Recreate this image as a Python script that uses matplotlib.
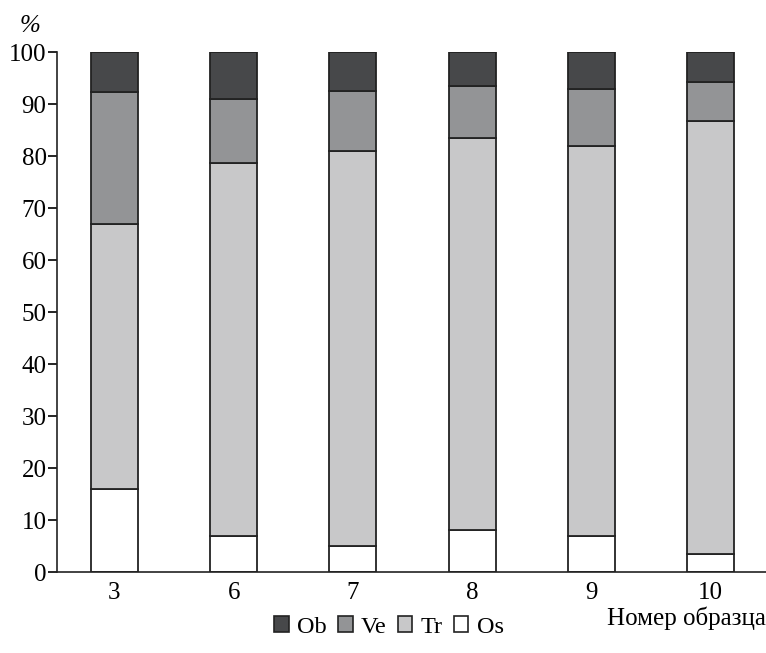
import numpy as np
import matplotlib.pyplot as plt
from matplotlib.patches import Patch

plt.rcParams['font.family'] = ['Liberation Serif', 'DejaVu Serif']

# Data (cumulative boundaries, converted to shares)
samples = ['3', '6', '7', '8', '9', '10']
os_vals = [16, 7, 5, 8, 7, 3.5]
tr_vals = [51, 71.7, 76, 75.5, 75, 83.2]
ve_vals = [25.3, 12.3, 11.5, 10, 11, 7.5]
ob_vals = [7.7, 9, 7.5, 6.5, 7, 5.8]

colors = {'Ob': '#47484a', 'Ve': '#939496', 'Tr': '#c8c8c9', 'Os': '#ffffff'}
edge = '#222222'

fig = plt.figure(figsize=(7.66, 6.53), dpi=100)
ax = fig.add_axes([0.0744, 0.124, 0.9256, 0.796])

x = np.arange(len(samples))
w = 0.395
b = np.zeros(len(samples))
for name, vals in [('Os', os_vals), ('Tr', tr_vals), ('Ve', ve_vals), ('Ob', ob_vals)]:
    ax.bar(x, vals, w, bottom=b, color=colors[name], edgecolor=edge, linewidth=1.3)
    b = b + np.array(vals)

ax.set_ylim(0, 100)
ax.set_xlim(-0.482, 5.466)
ax.set_yticks(range(0, 101, 10))
ax.set_xticks(x)
ax.set_xticklabels(samples)
ax.tick_params(axis='x', length=0, pad=7, labelsize=18)
ax.tick_params(axis='y', length=6.5, width=1.2, direction='out', labelsize=18, pad=1)
for s in ['top', 'right']:
    ax.spines[s].set_visible(False)
for s in ['left', 'bottom']:
    ax.spines[s].set_linewidth(1.2)
    ax.spines[s].set_color('#222222')

fig.text(0.026, 0.96, '%', fontsize=18, style='italic', ha='left', va='center')
fig.text(1.0, 0.053, 'Номер образца', fontsize=18, ha='right', va='center')

handles = [Patch(facecolor=colors[n], edgecolor=edge, linewidth=1.2, label=n)
           for n in ['Ob', 'Ve', 'Tr', 'Os']]
fig.legend(handles=handles, loc='center', bbox_to_anchor=(0.508, 0.04), ncol=4,
           frameon=False, fontsize=17.5, handlelength=0.6, handleheight=0.6,
           handletextpad=0.35, columnspacing=0.45)

fig.savefig('out.png', dpi=100)
